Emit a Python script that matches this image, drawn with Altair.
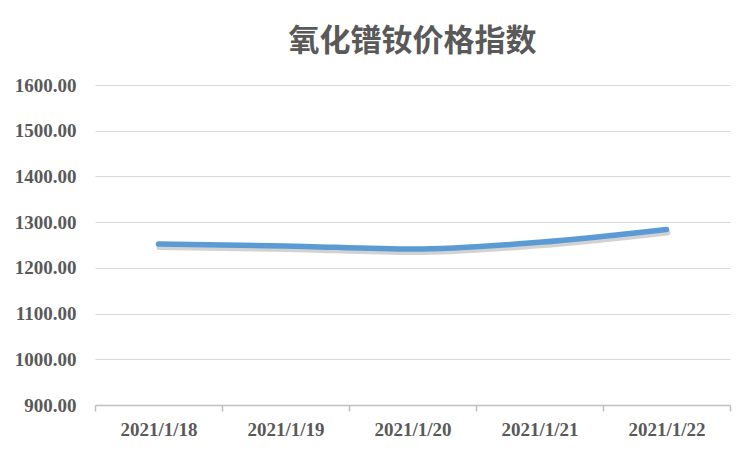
import altair as alt
import pandas as pd

dates = ["2021/1/18", "2021/1/19", "2021/1/20", "2021/1/21", "2021/1/22"]
values = [1252, 1248, 1241, 1256, 1284]

df = pd.DataFrame({"date": dates, "value": values})

x_enc = alt.X(
    "date:N",
    sort=dates,
    scale=alt.Scale(type="band", paddingInner=0, paddingOuter=0),
    axis=alt.Axis(
        title=None,
        labelAngle=0,
        tickBand="extent",
        domainColor="#BFBFBF",
        domainWidth=1.5,
        tickColor="#BFBFBF",
        tickSize=6,
        tickWidth=1.5,
        labelFont="Liberation Serif",
        labelFontWeight="bold",
        labelFontSize=19,
        labelColor="#595959",
        labelPadding=9,
        grid=False,
    ),
)
y_enc = alt.Y(
    "value:Q",
    scale=alt.Scale(domain=[900, 1600], nice=False, zero=False),
    axis=alt.Axis(
        title=None,
        values=[900, 1000, 1100, 1200, 1300, 1400, 1500, 1600],
        format=".2f",
        domain=False,
        ticks=False,
        gridColor="#D9D9D9",
        gridWidth=1,
        labelFont="Liberation Serif",
        labelFontWeight="bold",
        labelFontSize=19,
        labelColor="#595959",
        labelPadding=19,
    ),
)

shadow = alt.Chart(df).mark_line(
    interpolate="monotone", color="#7f7f7f", opacity=0.35, strokeWidth=6,
    strokeCap="round", xOffset=1, yOffset=3,
).encode(x=x_enc, y=y_enc)

line = alt.Chart(df).mark_line(
    interpolate="monotone", color="#5B9BD5", strokeWidth=5.5, strokeCap="round",
).encode(x=x_enc, y=y_enc)

chart = (
    alt.layer(shadow, line)
    .properties(
        width=635,
        height=320,
        view=alt.ViewBackground(strokeWidth=0, strokeOpacity=0),
        autosize=alt.AutoSizeParams(type="none"),
        padding={"left": 87, "top": 77, "right": 14, "bottom": 38},
        title=alt.TitleParams(
            "氧化镨钕价格指数",
            font="Noto Sans CJK SC",
            fontSize=31,
            fontWeight="bold",
            color="#595959",
            anchor="middle",
            offset=18,
        ),
    )
    .configure_view(strokeWidth=0, strokeOpacity=0)
    .configure_axisX(gridOpacity=0)
    .configure(background="white")
)

chart.save("out.html", embed_options={"renderer": "svg", "actions": False})
